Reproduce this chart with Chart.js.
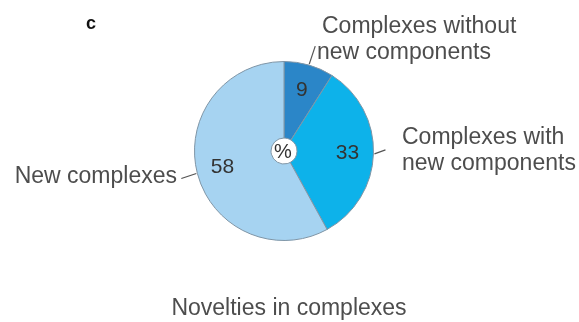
<!DOCTYPE html>
<html>
<head>
<meta charset="utf-8">
<script src="https://cdn.jsdelivr.net/npm/chart.js@4"></script>
<style>
  html, body { margin: 0; padding: 0; background: #fff; }
  #wrap { width: 579px; height: 322px; }
  #chartNovelties { filter: blur(0.45px); }
</style>
</head>
<body>
<div id="wrap"><canvas id="chartNovelties" width="579" height="322"></canvas></div>
<script>
/*-------------------
    NOVELTIES PIE
--------------------*/

const categories = ['Complexes without new components', 'Complexes with new components', 'New complexes'];
const percents = [9, 33, 58];
const sliceColors = ['#2b86c8', '#0db2ea', '#a6d3f1'];

// outside labels, one entry per slice: text lines, anchor, align, leader end offset
const outsideLabels = [
    { lines: ['Complexes without', 'new components'], xs: [322, 317], y: 33, align: 'left', lead: [6, -18] },
    { lines: ['Complexes with', 'new components'], xs: [402, 402], y: 144, align: 'left', lead: [11, -4] },
    { lines: ['New complexes'], xs: [177], y: 183, align: 'right', lead: [-15, 5] }
];

const TEXT = '#4d4d4d';
const FONT = '"Liberation Sans", Arial, Helvetica, sans-serif';

const annotate = {
    id: 'annotate',
    afterDatasetsDraw(chart) {
        const ctx = chart.ctx;
        const arcs = chart.getDatasetMeta(0).data;
        ctx.save();

        arcs.forEach((arc, i) => {
            const mid = (arc.startAngle + arc.endAngle) / 2;
            // value inside the slice
            const r = arc.outerRadius * 0.71;
            ctx.fillStyle = '#333';
            ctx.font = '21px ' + FONT;
            ctx.textAlign = 'center';
            ctx.textBaseline = 'middle';
            ctx.fillText(percents[i], arc.x + Math.cos(mid) * r, arc.y + Math.sin(mid) * r);

            // leader from the rim
            const lab = outsideLabels[i];
            const sx = arc.x + Math.cos(mid) * (arc.outerRadius + 1);
            const sy = arc.y + Math.sin(mid) * (arc.outerRadius + 1);
            ctx.strokeStyle = '#555';
            ctx.lineWidth = 1.2;
            ctx.beginPath();
            ctx.moveTo(sx, sy);
            ctx.lineTo(sx + lab.lead[0], sy + lab.lead[1]);
            ctx.stroke();

            ctx.fillStyle = TEXT;
            ctx.font = '23px ' + FONT;
            ctx.textAlign = lab.align;
            ctx.textBaseline = 'alphabetic';
            lab.lines.forEach((t, k) => ctx.fillText(t, lab.xs[k], lab.y + k * 26));
        });

        // centre mark
        const a0 = arcs[0];
        ctx.fillStyle = '#333';
        ctx.font = '20px ' + FONT;
        ctx.textAlign = 'center';
        ctx.textBaseline = 'middle';
        ctx.fillText('%', a0.x - 1, a0.y + 1);

        // panel letter and caption
        ctx.fillStyle = '#111';
        ctx.font = 'bold 18px ' + FONT;
        ctx.textAlign = 'left';
        ctx.textBaseline = 'alphabetic';
        ctx.fillText('c', 86, 29);

        ctx.fillStyle = TEXT;
        ctx.font = '23px ' + FONT;
        ctx.textAlign = 'center';
        ctx.fillText('Novelties in complexes', 289, 315);
        ctx.restore();
    }
};

new Chart(document.getElementById('chartNovelties'), {
    type: 'doughnut',
    data: {
        labels: categories,
        datasets: [{
            data: percents,
            backgroundColor: sliceColors,
            borderColor: '#7f95a6',
            borderWidth: 1
        }]
    },
    options: {
        responsive: false,
        animation: false,
        cutout: 13,
        layout: { padding: { left: 194, right: 205, top: 60, bottom: 80 } },
        plugins: {
            legend: { display: false },
            tooltip: { enabled: false }
        }
    },
    plugins: [annotate]
});
</script>
</body>
</html>
